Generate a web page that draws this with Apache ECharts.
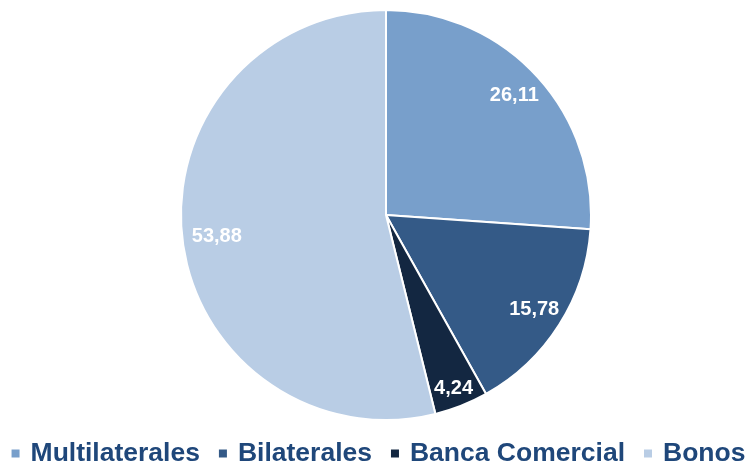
<!DOCTYPE html>
<html><head><meta charset="utf-8">
<script src="https://cdn.jsdelivr.net/npm/echarts@6/dist/echarts.min.js"></script>
<style>html,body{margin:0;padding:0;background:#fff}#c{width:755px;height:465px}</style>
</head><body><div id="c"></div>
<script>
const categories = ['Multilaterales', 'Bilaterales', 'Banca Comercial', 'Bonos'];
const values = [26.11, 15.78, 4.24, 53.88];
const colors = ['#789FCB', '#345A87', '#132741', '#B9CDE5'];

const chart = echarts.init(document.getElementById('c'), null, {renderer: 'canvas'});
const baseData = categories.map((n, i) => ({name: n, value: values[i], itemStyle: {color: colors[i]}}));
const labelData = categories.map((n, i) => ({
  name: n, value: values[i],
  label: i === 2 ? {offset: [3, 10]} : (i === 3 ? {offset: [5, 0]} : {})
}));
chart.setOption({
  animation: false,
  legend: {
    data: categories,
    top: 440,
    left: 'center',
    icon: 'rect',
    itemWidth: 10,
    itemHeight: 10,
    itemGap: 17,
    padding: 0,
    textStyle: {
      fontFamily: 'Liberation Sans, Arial, sans-serif',
      fontWeight: 'bold',
      fontSize: 26.5,
      color: '#1F477A',
      padding: [0, 0, 0, 5]
    }
  },
  series: [
    {
      type: 'pie',
      center: [386, 215],
      radius: [0, 205],
      startAngle: 90,
      clockwise: true,
      data: baseData,
      label: {show: false},
      labelLine: {show: false},
      itemStyle: {borderColor: '#fff', borderWidth: 2},
      emphasis: {disabled: true}
    },
    {
      type: 'pie',
      center: [386, 215],
      radius: [140, 205],
      startAngle: 90,
      clockwise: true,
      silent: true,
      data: labelData,
      itemStyle: {color: 'rgba(0,0,0,0)'},
      label: {
        show: true,
        position: 'inside',
        color: '#fff',
        fontFamily: 'Liberation Sans, Arial, sans-serif',
        fontWeight: 'bold',
        fontSize: 20,
        formatter: p => p.value.toFixed(2).replace('.', ',')
      },
      labelLine: {show: false},
      emphasis: {disabled: true}
    }
  ]
});
</script></body></html>
